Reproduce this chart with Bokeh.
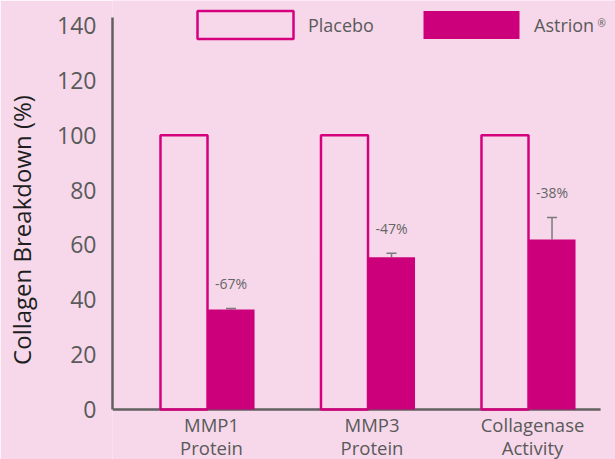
import numpy as np
from bokeh.plotting import figure
from bokeh.models import (ColumnDataSource, FixedTicker, Range1d, Legend, LegendItem,
                          Whisker, TeeHead, Label, LinearAxis)
from bokeh.core.properties import value
from bokeh.embed import file_html
from bokeh.resources import INLINE

# Chart data
categories = ["MMP1\nProtein", "MMP3\nProtein", "Collagenase\nActivity"]
placebo = [100, 100, 100]
astrion = [36.5, 55.5, 62.0]
astrion_err_upper = [36.8, 57.0, 70.0]
change_labels = ["-67%", "-47%", "-38%"]
y_ticks = [0, 20, 40, 60, 80, 100, 120, 140]

FONT = "Open Sans"
BG = "#f6d8ea"
MAGENTA = "#cc007a"
OUTLINE = "#d6007f"
AXIS_GREY = "#616161"
TEXT_GREY = "#5a5a5a"

positions = np.arange(1, len(categories) + 1)
bar_w = 0.293
x_view = (0.408, 3.542)     # extra room on the right for the legend mark
x_axis_end = 3.449          # where the baseline stops
y_axis_top = 142.9          # where the value axis line ends
y_view = (-18.2, 149.1)     # room below for category names, above for the legend

src = ColumnDataSource(dict(
    x=positions,
    x_p=positions - bar_w / 2,
    x_a=positions + bar_w / 2,
    placebo=placebo,
    astrion=astrion,
    err=astrion_err_upper,
    lbl=change_labels,
    cat1=[c.split("\n")[0] for c in categories],
    cat2=[c.split("\n")[1] for c in categories],
    zero=[0] * len(categories),
))

p = figure(width=615, height=459, output_backend="svg", toolbar_location=None,
           x_range=Range1d(*x_view), y_range=Range1d(*y_view),
           min_border_left=112, min_border_right=0, min_border_top=0,
           min_border_bottom=0,
           background_fill_color=BG, border_fill_color=BG, outline_line_color=None)
p.grid.visible = False
p.xaxis.visible = False

# Baseline along y = 0
p.segment(x0=[x_view[0]], y0=[0], x1=[x_axis_end], y1=[0],
          line_color=AXIS_GREY, line_width=2.5)

# Bars
r_placebo = p.vbar(x="x_p", top="placebo", bottom=0, width=bar_w, source=src,
                   fill_color=None, line_color=OUTLINE, line_width=2.5)
r_astrion = p.vbar(x="x_a", top="astrion", bottom=0, width=bar_w, source=src,
                   fill_color=MAGENTA, line_color=None)

# Error bars (upper only)
p.add_layout(Whisker(base="x_a", lower="astrion", upper="err", source=src,
                     line_color="#7a7a7a", line_width=1.5, lower_head=None,
                     upper_head=TeeHead(size=10, line_color="#7a7a7a", line_width=1.5)))

# Percentage change labels
p.text(x="x_a", y="err", text="lbl", source=src, text_align="center",
       text_baseline="middle", y_offset=-25, text_font=value(FONT),
       text_font_size="14px", text_color="#666666")

# Category names, two lines under the baseline
for col, dy in (("cat1", 15), ("cat2", 38)):
    p.text(x="x", y="zero", text=col, source=src, x_offset=4, y_offset=dy,
           text_align="center", text_baseline="middle",
           text_font=value(FONT), text_font_size="18.5px", text_color=TEXT_GREY)

# Value axis
p.yaxis.ticker = FixedTicker(ticks=y_ticks)
p.yaxis.bounds = (0, y_axis_top)
p.yaxis.major_label_text_font = FONT
p.yaxis.major_label_text_font_size = "23px"
p.yaxis.major_label_text_color = TEXT_GREY
p.yaxis.major_label_standoff = 10
p.yaxis.major_tick_line_color = None
p.yaxis.minor_tick_line_color = None
p.yaxis.axis_line_color = AXIS_GREY
p.yaxis.axis_line_width = 2.5

# Axis title on its own (label-only) axis
title_axis = LinearAxis(ticker=FixedTicker(ticks=[]), bounds=(-14.5, y_axis_top),
                        axis_line_color=None, major_tick_line_color=None,
                        minor_tick_line_color=None, major_label_text_font_size="0px",
                        axis_label="Collagen Breakdown (%)", axis_label_text_font=FONT,
                        axis_label_text_font_size="24px",
                        axis_label_text_font_style="normal",
                        axis_label_text_color="#1e1e1e", axis_label_standoff=17)
p.add_layout(title_axis, "left")

# Legend across the top (location is the legend's bottom-left, frame pixels)
legend = Legend(items=[LegendItem(label="Placebo", renderers=[r_placebo]),
                       LegendItem(label="Astrion", renderers=[r_astrion])],
                orientation="horizontal", location=(73, 417),
                glyph_width=120, glyph_height=35, label_standoff=3,
                label_width=95, spacing=8, padding=0, margin=0,
                border_line_color=None, background_fill_alpha=0,
                label_text_font=FONT, label_text_font_size="18px",
                label_text_color=TEXT_GREY)
p.add_layout(legend)
p.add_layout(Label(x=3.4298, y=143.3, text="®",
                   text_font=FONT, text_font_size="10px", text_color=TEXT_GREY,
                   text_baseline="top"))

open("out.html", "w").write(file_html(p, INLINE))
